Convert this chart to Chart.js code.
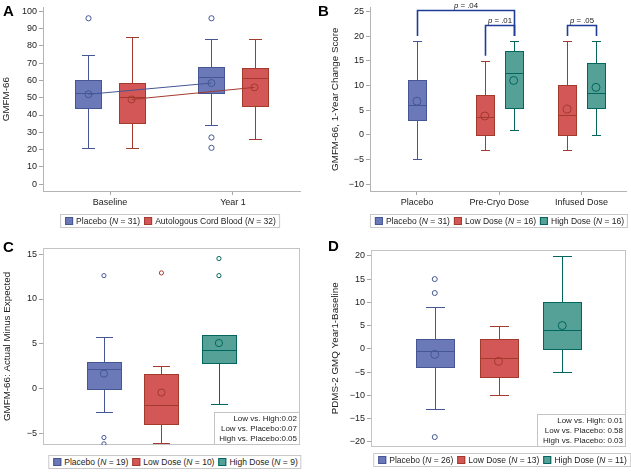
<!DOCTYPE html>
<html>
<head>
<meta charset="utf-8">
<script src="https://cdn.jsdelivr.net/npm/chart.js@4.4.1/dist/chart.umd.min.js"></script>
<style>
  body { margin: 0; background: #fff; font-family: "Liberation Sans", Arial, sans-serif; }
  #wrap { position: relative; width: 631px; height: 472px; overflow: hidden; }
  canvas { position: absolute; }
  .lbl { position: absolute; font-weight: bold; font-size: 15px; line-height: 15px; color: #000; }
  .leg { position: absolute; transform: translateX(-50%); border: 1px solid #c8c8c8; font-size: 8.5px;
         color: #222; height: 12px; line-height: 12px; white-space: nowrap; padding: 0 3px 0 0;
         display: flex; align-items: center; }
  .leg .sw { display: inline-block; width: 8px; height: 8px; margin: 0 3px 0 4px; box-sizing: border-box; }
</style>
</head>
<body>
<div id="wrap">
  <canvas id="chartA" width="315" height="212" style="left:0;top:0"></canvas>
  <canvas id="chartB" width="316" height="212" style="left:315px;top:0"></canvas>
  <canvas id="chartC" width="315" height="218" style="left:0;top:236px"></canvas>
  <canvas id="chartD" width="316" height="218" style="left:315px;top:236px"></canvas>
  <div class="lbl" style="left:3px;top:3px">A</div>
  <div class="lbl" style="left:318px;top:3px">B</div>
  <div class="lbl" style="left:3px;top:239px">C</div>
  <div class="lbl" style="left:328px;top:238px">D</div>
  <div class="leg" id="legA" style="left:170px;top:214px"></div>
  <div class="leg" id="legB" style="left:499px;top:214px"></div>
  <div class="leg" id="legC" style="left:175px;top:455px"></div>
  <div class="leg" id="legD" style="left:502px;top:453px"></div>
</div>
<script>
// colours: group fill / outline (placebo, low or cord blood, high)
const FONT = "'Liberation Sans', Arial, sans-serif";
const FILL = ['#6b79b9', '#d35757', '#56a197'];
const LINE = ['#445694', '#a23a2e', '#01665e'];

// ---- Panel A : GMFM-66 by visit ----
const aCats = ['Baseline', 'Year 1'];
const aGroups = ['Placebo', 'Autologous Cord Blood'];
const aN = [31, 32];
const aYTicks = [0, 10, 20, 30, 40, 50, 60, 70, 80, 90, 100];
// [low whisker, q1, median, q3, high whisker]
const aPlaceboStats = [[21, 44, 53, 60, 75], [34, 53, 62, 68, 84]];
const aCordStats = [[21, 35.5, 50.5, 58.5, 85], [26, 45, 61.5, 67, 84]];
const aPlaceboMean = [52, 58.5];
const aCordMean = [49, 56];
const aPlaceboOut = [[96], [96, 27, 21]];
const aCordOut = [[], []];

// ---- Panel B : 1-year change by dose ----
const bCats = ['Placebo', 'Pre-Cryo Dose', 'Infused Dose'];
const bGroups = ['Placebo', 'Low Dose', 'High Dose'];
const bN = [31, 16, 16];
const bYTicks = [-10, -5, 0, 5, 10, 15, 20, 25];
const bPlaceboStats = [[-5, 3, 6, 11, 19]];
const bLowStats = [[-3, 0, 3.5, 8, 15], [-3, 0, 4, 10, 19]];
const bHighStats = [[1, 5.5, 12.5, 17, 19], [0, 5.5, 8.5, 14.5, 19]];
const bPlaceboMean = [6.8];
const bLowMean = [3.8, 5.2];
const bHighMean = [11, 9.6];
// significance brackets: [category, group] at each end
const bPLabels = ['.04', '.01', '.05'];
const bPLeft = [[0, 0], [1, 1], [2, 1]];
const bPRight = [[1, 2], [1, 2], [2, 2]];
const bPTop = [25.2, 22.2, 22.2];
const bPFoot = [[20, 20], [16, 20], [20, 20]];

// ---- Panel C : actual minus expected ----
const cGroups = ['Placebo', 'Low Dose', 'High Dose'];
const cN = [19, 10, 9];
const cYTicks = [-5, 0, 5, 10, 15];
const cStats = [[-2.6, 0, 2.2, 3, 5.8], [-6.05, -3.9, -1.8, 1.7, 2.5], [-1.7, 2.85, 4.35, 5.95, 5.95]];
const cMean = [1.7, -0.4, 5.1];
const cOut = [[12.6, -5.4, -6.1], [12.9], [14.5, 12.6]];
const cCompare = ['Low vs. High:', 'Low vs. Placebo:', 'High vs. Placebo:'];
const cPvals = ['0.02', '0.07', '0.05'];

// ---- Panel D : PDMS-2 GMQ change ----
const dGroups = ['Placebo', 'Low Dose', 'High Dose'];
const dN = [26, 13, 11];
const dYTicks = [-20, -15, -10, -5, 0, 5, 10, 15, 20];
const dStats = [[-13, -4, -0.5, 2, 9], [-10, -6, -2, 2, 5], [-5, 0, 4, 10, 20]];
const dMean = [-1.2, -2.7, 5];
const dOut = [[15, 12, -19], [], []];
const dCompare = ['Low vs. High: ', 'Low vs. Placebo: ', 'High vs. Placebo: '];
const dPvals = ['0.01', '0.58', '0.03'];

const GRP_OFF = [-0.175, 0.175];

function fmtTick(v) {
    return v < 0 ? '\u2212' + Math.abs(v) : String(v);
}

// draws box, whiskers and median line through the chart scales
function boxPlugin(boxes, boxW) {
    return {
        id: 'boxes',
        beforeDatasetsDraw(chart) {
            const { ctx, scales: { x, y } } = chart;
            boxes.forEach(b => {
                const cx = Math.round(x.getPixelForValue(b.x)) + 0.5;
                const hw = Math.round((x.getPixelForValue(b.x + boxW) - x.getPixelForValue(b.x)) / 2);
                const p = b.s.map(v => Math.round(y.getPixelForValue(v)) + 0.5);
                ctx.save();
                ctx.lineWidth = 1;
                ctx.strokeStyle = LINE[b.g];
                ctx.beginPath();
                ctx.moveTo(cx, p[3]); ctx.lineTo(cx, p[4]);
                ctx.moveTo(cx - hw / 2, p[4]); ctx.lineTo(cx + hw / 2, p[4]);
                ctx.moveTo(cx, p[1]); ctx.lineTo(cx, p[0]);
                ctx.moveTo(cx - hw / 2, p[0]); ctx.lineTo(cx + hw / 2, p[0]);
                ctx.stroke();
                ctx.fillStyle = FILL[b.g];
                ctx.fillRect(cx - hw, p[3], hw * 2, p[1] - p[3]);
                ctx.strokeRect(cx - hw, p[3], hw * 2, p[1] - p[3]);
                ctx.beginPath();
                ctx.moveTo(cx - hw, p[2]); ctx.lineTo(cx + hw, p[2]);
                ctx.stroke();
                ctx.restore();
            });
        }
    };
}

const framePlugin = {
    id: 'frame',
    beforeDatasetsDraw(chart) {
        const { ctx, chartArea: a } = chart;
        ctx.save();
        ctx.strokeStyle = '#c4c4c4';
        ctx.lineWidth = 1;
        ctx.strokeRect(Math.round(a.left) + 0.5, Math.round(a.top) + 0.5,
            Math.round(a.right - a.left) - 1, Math.round(a.bottom - a.top) - 1);
        ctx.restore();
    }
};

function insetPlugin(labels, vals) {
    return {
        id: 'inset',
        afterDraw(chart) {
            const { ctx, chartArea: a } = chart;
            const lines = labels.map((t, i) => t + vals[i]);
            ctx.save();
            ctx.font = '8px ' + FONT;
            const w = Math.ceil(Math.max(...lines.map(t => ctx.measureText(t).width))) + 7;
            const lh = 10, h = Math.round(lines.length * lh + 2);
            const x0 = Math.round(a.right) - 1 - w, y0 = Math.round(a.bottom) - 1 - h;
            ctx.fillStyle = '#fff';
            ctx.fillRect(x0, y0, w, h);
            ctx.strokeStyle = '#c4c4c4';
            ctx.strokeRect(x0 + 0.5, y0 + 0.5, w, h);
            ctx.fillStyle = '#222';
            ctx.textAlign = 'right';
            ctx.textBaseline = 'middle';
            lines.forEach((t, i) => ctx.fillText(t, x0 + w - 2, y0 + 1.5 + lh * (i + 0.5)));
            ctx.restore();
        }
    };
}

function pts(list, xs) {
    return list.map((v, i) => ({ x: xs[i], y: v }));
}

function outPts(lists, xs) {
    return lists.flatMap((arr, i) => arr.map(v => ({ x: xs[i], y: v })));
}

function ptSet(data, g, r, showLine) {
    return {
        type: showLine ? 'line' : 'scatter',
        data: data,
        showLine: !!showLine,
        borderColor: LINE[g],
        borderWidth: 1,
        pointBorderColor: LINE[g],
        pointBackgroundColor: 'rgba(0,0,0,0)',
        pointBorderWidth: 1,
        pointRadius: r,
        pointStyle: 'circle',
        fill: false
    };
}

function makeChart(id, c) {
    const cv = document.getElementById(id);
    const W = cv.width, H = cv.height;
    const a = c.area;
    const plugins = [boxPlugin(c.boxes, c.boxW)].concat(c.plugins || []);
    if (c.frame) plugins.unshift(framePlugin);
    return new Chart(cv.getContext('2d'), {
        type: 'scatter',
        data: { datasets: c.datasets },
        plugins: plugins,
        options: {
            responsive: false,
            animation: false,
            events: [],
            layout: { padding: { left: 0, top: a.t, right: W - a.r, bottom: 0 } },
            plugins: { legend: { display: false }, tooltip: { enabled: false } },
            scales: {
                x: {
                    type: 'linear',
                    min: c.xMin, max: c.xMax,
                    afterFit: s => { s.height = H - a.b; },
                    afterBuildTicks: s => { s.ticks = c.xLabels.map((t, i) => ({ value: i })); },
                    ticks: {
                        display: c.xLabels.length > 0,
                        callback: (v, i) => c.xLabels[i],
                        font: { family: FONT, size: 9 },
                        color: '#222',
                        padding: 2,
                        maxRotation: 0,
                        autoSkip: false
                    },
                    grid: { display: c.xLabels.length > 0, drawOnChartArea: false, tickLength: 4, color: '#a8a8a8' },
                    border: { display: !c.frame, color: '#b4b4b4' }
                },
                y: {
                    type: 'linear',
                    min: c.yMin, max: c.yMax,
                    afterFit: s => { s.width = a.l; },
                    afterBuildTicks: s => { s.ticks = c.yTicks.map(v => ({ value: v })); },
                    ticks: {
                        callback: v => fmtTick(v),
                        font: { family: FONT, size: 9 },
                        color: '#222',
                        padding: 2
                    },
                    grid: { display: true, drawOnChartArea: false, tickLength: 4, color: '#a8a8a8' },
                    border: { display: !c.frame, color: '#b4b4b4' },
                    title: {
                        display: true,
                        text: c.yTitle,
                        font: { family: FONT, size: 9.8 },
                        color: '#222',
                        padding: { top: c.titlePad, bottom: 0 }
                    }
                }
            }
        }
    });
}

function legend(id, names, ns, groups) {
    document.getElementById(id).innerHTML = names.map((nm, i) => {
        const g = groups[i];
        return '<span class="sw" style="background:' + FILL[g] + ';border:1px solid ' + LINE[g] + '"></span>' +
            nm + '&nbsp;(<i>N</i>&nbsp;=&nbsp;' + ns[i] + ')';
    }).join('');
}

// ---------- A ----------
const aXP = aCats.map((c, i) => i + GRP_OFF[0]);
const aXC = aCats.map((c, i) => i + GRP_OFF[1]);
const aBoxes = [];
aCats.forEach((c, i) => {
    aBoxes.push({ x: aXP[i], s: aPlaceboStats[i], g: 0 });
    aBoxes.push({ x: aXC[i], s: aCordStats[i], g: 1 });
});
makeChart('chartA', {
    area: { l: 43, t: 5, r: 300, b: 191 },
    xMin: -0.545, xMax: 1.545, xLabels: aCats,
    yMin: -4, yMax: 102.3, yTicks: aYTicks,
    yTitle: 'GMFM-66', titlePad: 0,
    boxes: aBoxes, boxW: 0.21,
    datasets: [
        ptSet(pts(aPlaceboMean, aXP), 0, 3.5, true),
        ptSet(pts(aCordMean, aXC), 1, 3.5, true),
        ptSet(outPts(aPlaceboOut, aXP), 0, 2.6),
        ptSet(outPts(aCordOut, aXC), 1, 2.6)
    ]
});
legend('legA', aGroups, aN, [0, 1]);

// ---------- B ----------
function bX(cat, grp) {
    return grp === 0 ? cat : cat + GRP_OFF[grp - 1];
}
const bXL = [bX(1, 1), bX(2, 1)];
const bXH = [bX(1, 2), bX(2, 2)];
const bBoxes = [{ x: bX(0, 0), s: bPlaceboStats[0], g: 0 }];
bLowStats.forEach((s, i) => bBoxes.push({ x: bXL[i], s: s, g: 1 }));
bHighStats.forEach((s, i) => bBoxes.push({ x: bXH[i], s: s, g: 2 }));

const bracketPlugin = {
    id: 'brackets',
    afterDatasetsDraw(chart) {
        const { ctx, scales: { x, y } } = chart;
        ctx.save();
        ctx.strokeStyle = '#1f3c96';
        ctx.lineWidth = 1.6;
        bPLabels.forEach((lab, i) => {
            const x1 = Math.round(x.getPixelForValue(bX(bPLeft[i][0], bPLeft[i][1]))) + 0.5;
            const x2 = Math.round(x.getPixelForValue(bX(bPRight[i][0], bPRight[i][1]))) + 0.5;
            const yt = Math.round(y.getPixelForValue(bPTop[i])) + 0.5;
            ctx.beginPath();
            ctx.moveTo(x1, y.getPixelForValue(bPFoot[i][0]));
            ctx.lineTo(x1, yt);
            ctx.lineTo(x2, yt);
            ctx.lineTo(x2, y.getPixelForValue(bPFoot[i][1]));
            ctx.stroke();
            // "p = .04" with italic p
            const rest = ' = ' + lab;
            ctx.font = 'italic 7.8px ' + FONT;
            const wp = ctx.measureText('p').width;
            ctx.font = '7.8px ' + FONT;
            const wr = ctx.measureText(rest).width;
            const sx = (x1 + x2) / 2 - (wp + wr) / 2;
            ctx.fillStyle = '#222';
            ctx.textBaseline = 'alphabetic';
            ctx.textAlign = 'left';
            ctx.font = 'italic 7.8px ' + FONT;
            ctx.fillText('p', sx, yt - 2.5);
            ctx.font = '7.8px ' + FONT;
            ctx.fillText(rest, sx + wp, yt - 2.5);
        });
        ctx.restore();
    }
};

makeChart('chartB', {
    area: { l: 55, t: 5, r: 313, b: 191 },
    xMin: -0.57, xMax: 2.54, xLabels: bCats,
    yMin: -11.4, yMax: 25.8, yTicks: bYTicks,
    yTitle: 'GMFM-66, 1-Year Change Score', titlePad: 14,
    boxes: bBoxes, boxW: 0.215,
    plugins: [bracketPlugin],
    datasets: [
        ptSet(pts(bPlaceboMean, [bX(0, 0)]), 0, 4),
        ptSet(pts(bLowMean, bXL), 1, 4),
        ptSet(pts(bHighMean, bXH), 2, 4)
    ]
});
legend('legB', bGroups, bN, [0, 1, 2]);

// ---------- C ----------
const cX = cGroups.map((g, i) => i + 1);
makeChart('chartC', {
    area: { l: 43, t: 12, r: 300, b: 209 },
    xMin: -0.06, xMax: 4.41, xLabels: [],
    yMin: -6.23, yMax: 15.67, yTicks: cYTicks,
    yTitle: 'GMFM-66: Actual Minus Expected', titlePad: 1,
    frame: true,
    boxes: cStats.map((s, i) => ({ x: cX[i], s: s, g: i })), boxW: 0.59,
    plugins: [insetPlugin(cCompare, cPvals)],
    datasets: cGroups.flatMap((g, i) => [
        ptSet(pts([cMean[i]], [cX[i]]), i, 3.6),
        ptSet(outPts([cOut[i]], [cX[i]]), i, 2.1)
    ])
});
legend('legC', cGroups, cN, [0, 1, 2]);

// ---------- D ----------
const dX = dGroups.map((g, i) => i + 1);
makeChart('chartD', {
    area: { l: 56, t: 14, r: 313, b: 215 },
    xMin: 0, xMax: 4, xLabels: [],
    yMin: -21.05, yMax: 21.26, yTicks: dYTicks,
    yTitle: 'PDMS-2 GMQ Year1-Baseline', titlePad: 14,
    frame: true,
    boxes: dStats.map((s, i) => ({ x: dX[i], s: s, g: i })), boxW: 0.59,
    plugins: [insetPlugin(dCompare, dPvals)],
    datasets: dGroups.flatMap((g, i) => [
        ptSet(pts([dMean[i]], [dX[i]]), i, 4),
        ptSet(outPts([dOut[i]], [dX[i]]), i, 2.5)
    ])
});
legend('legD', dGroups, dN, [0, 1, 2]);
</script>
</body>
</html>
